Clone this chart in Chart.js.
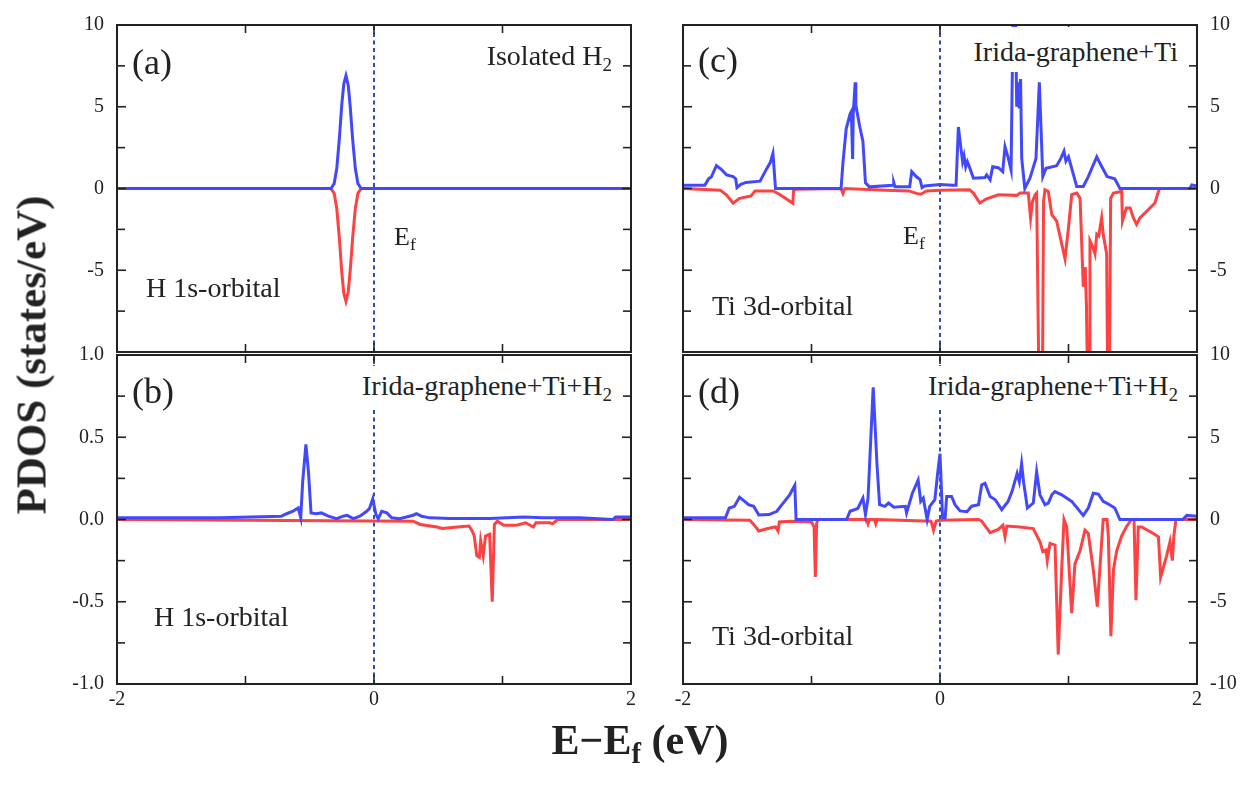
<!DOCTYPE html>
<html><head><meta charset="utf-8">
<script src="https://cdn.jsdelivr.net/npm/chart.js@4.4.0/dist/chart.umd.min.js"></script>
<style>
html,body{margin:0;padding:0;background:#fff;overflow:hidden;width:1259px;height:787px;position:relative;}
canvas{position:absolute;}
.t{position:absolute;font-family:"Liberation Serif","Times New Roman",serif;color:#222;white-space:nowrap;line-height:1;}
.t sub{font-size:0.68em;vertical-align:-0.3em;line-height:0;}
.bx{background:#fff;padding-left:3px;padding-right:3px;}
.b{font-weight:bold;}
</style></head><body>
<canvas id="ca" width="660" height="380" style="left:0;top:0"></canvas>
<canvas id="cb" width="660" height="420" style="left:0;top:330px"></canvas>
<canvas id="cc" width="609" height="380" style="left:650px;top:0"></canvas>
<canvas id="cd" width="609" height="420" style="left:650px;top:330px"></canvas>

<div class="t" style="left:132px;top:44px;font-size:36px">(a)</div>
<div class="t" style="right:647px;top:42px;font-size:28px">Isolated H<sub>2</sub></div>
<div class="t" style="left:394px;top:224px;font-size:26px">E<sub>f</sub></div>
<div class="t" style="left:146px;top:274px;font-size:28px">H 1s-orbital</div>

<div class="t" style="left:132px;top:373px;font-size:36px">(b)</div>
<div class="t bx" style="right:644px;top:366px;padding-top:6px;padding-bottom:10px;font-size:28px">Irida-graphene+Ti+H<sub>2</sub></div>
<div class="t" style="left:154px;top:603px;font-size:28px">H 1s-orbital</div>

<div class="t" style="left:698px;top:42px;font-size:36px">(c)</div>
<div class="t bx" style="right:78px;top:27px;padding-top:11px;padding-bottom:6px;font-size:28px">Irida-graphene+Ti</div>
<div class="t" style="left:903px;top:223px;font-size:26px">E<sub>f</sub></div>
<div class="t" style="left:712px;top:292px;font-size:28px">Ti 3d-orbital</div>

<div class="t" style="left:698px;top:373px;font-size:36px">(d)</div>
<div class="t bx" style="right:78px;top:366px;padding-top:6px;padding-bottom:10px;font-size:28px">Irida-graphene+Ti+H<sub>2</sub></div>
<div class="t" style="left:712px;top:622px;font-size:28px">Ti 3d-orbital</div>

<div class="t b" style="left:31px;top:355px;font-size:43px;transform:translate(-50%,-50%) rotate(-90deg)">PDOS (states/eV)</div>
<div class="t b" style="left:640px;top:740px;font-size:42px;transform:translate(-50%,-50%)">E&#8722;E<sub>f</sub> (eV)</div>

<script>
// ---------- axis ticks ----------
const xTickVals = [-2, 0, 2];
const xTickLabels = ['-2', '0', '2'];
const xMinorVals = [-1, 1];
const yTicksBig = [10, 5, 0, -5, -10];
const yLabelsTop = ['10', '5', '0', '-5', ''];
const yLabelsD = ['10', '5', '0', '-5', '-10'];
const yMinorBig = [7.5, 2.5, -2.5, -7.5];
const yTicksB = [1, 0.5, 0, -0.5, -1];
const yLabelsB = ['1.0', '0.5', '0.0', '-0.5', '-1.0'];
const yMinorB = [0.75, 0.25, -0.25, -0.75];

// ---------- (a) isolated H2, H 1s ----------
const aE   = [-2, -0.335, -0.31, -0.29, -0.27, -0.25, -0.235, -0.218, -0.20, -0.185, -0.165, -0.145, -0.125, -0.10, 2];
const aUpV = [0, 0, 0.3, 1.2, 3.0, 5.2, 6.4, 6.9, 6.3, 5.0, 2.9, 1.2, 0.3, 0, 0];
const aDnV = [0, 0, -0.3, -1.2, -3.0, -5.2, -6.4, -6.9, -6.3, -5.0, -2.9, -1.2, -0.3, 0, 0];

// ---------- (b) Irida-graphene+Ti+H2, H 1s ----------
const bUpE = [-2, -1.2, -0.72, -0.68, -0.63, -0.59, -0.57, -0.555, -0.53, -0.51,
              -0.49, -0.45, -0.41, -0.355, -0.29, -0.24, -0.21, -0.16, -0.11, -0.057,
              -0.036, -0.01, 0.015, 0.033, 0.06, 0.10, 0.137, 0.2, 0.305, 0.33,
              0.37, 0.435, 0.59, 0.9, 1.17, 1.31, 1.6, 1.86, 1.88, 2];
const bUpV = [0.01, 0.01, 0.02, 0.035, 0.05, 0.07, 0.01, 0.23, 0.457, 0.29,
              0.04, 0.035, 0.04, 0.02, 0.005, 0.02, 0.025, 0.005, 0.02, 0.05,
              0.066, 0.125, 0.03, 0.005, 0.05, 0.04, 0.01, 0.005, 0.026, 0.035,
              0.02, 0.01, 0.006, 0.006, 0.015, 0.01, 0.01, 0.0, 0.015, 0.015];
const bDnE = [-2, 0.305, 0.36, 0.49, 0.53, 0.65, 0.74, 0.764, 0.78, 0.80,
              0.82, 0.83, 0.85, 0.868, 0.90, 0.92, 0.937, 0.96, 1.01, 1.11,
              1.18, 1.24, 1.26, 1.37, 1.39, 1.43, 2];
const bDnV = [0, -0.01, -0.03, -0.046, -0.054, -0.046, -0.04, -0.07, -0.1, -0.22,
              -0.23, -0.13, -0.22, -0.10, -0.09, -0.5, -0.03, -0.01, -0.035, -0.035,
              -0.02, -0.046, -0.02, -0.02, -0.026, 0, 0];

// ---------- (c) Irida-graphene+Ti, Ti 3d ----------
const cUpE = [-2, -1.83, -1.80, -1.78, -1.74, -1.70, -1.66, -1.61, -1.59, -1.58,
              -1.55, -1.51, -1.40, -1.35, -1.32, -1.30, -1.28, -0.77, -0.755, -0.73,
              -0.70, -0.69, -0.68, -0.675, -0.66, -0.655, -0.625, -0.60, -0.58, -0.55,
              -0.365, -0.36, -0.35, -0.236, -0.22, -0.185, -0.155, -0.14, -0.12, 0.0,
              0.10, 0.125, 0.143, 0.16, 0.176, 0.187, 0.20, 0.213, 0.233, 0.26,
              0.35, 0.363, 0.39, 0.41, 0.454, 0.488, 0.506, 0.532, 0.553, 0.571,
              0.585, 0.597, 0.607, 0.617, 0.627, 0.636, 0.66, 0.70, 0.747, 0.773,
              0.80, 0.825, 0.908, 0.94, 0.965, 0.98, 1.0, 1.025, 1.064, 1.115,
              1.154, 1.22, 1.245, 1.30, 1.36, 1.40, 1.945, 1.96, 2.0];
const cUpV = [0.2, 0.2, 0.6, 0.7, 1.4, 1.15, 0.83, 0.73, 0.6, 0.05,
              0.25, 0.37, 0.45, 1.2, 1.6, 2.15, 0, 0, 1.6, 3.65,
              4.55, 4.7, 1.8, 4.6, 6.5, 5.1, 3.8, 2.9, 0.35, 0.1,
              0.2, 0.37, 0.1, 0.1, 1.03, 0.73, 0.55, 0.05, 0.15, 0.25,
              0.2, 0.2, 3.76, 2.65, 1.64, 2.0, 1.33, 1.64, 1.23, 0.63,
              0.67, 0.83, 0.53, 1.33, 1.27, 1.03, 2.55, 1.84, 1.13, 12,
              12, 5.0, 6.5, 4.9, 6.7, 1.84, 0, 0.63, 1.84, 6.5,
              0.73, 1.23, 1.39, 1.84, 2.28, 1.68, 1.94, 1.23, 0.12, 0.12,
              0.73, 1.94, 1.54, 0.73, 0.59, 0, 0, 0.22, 0.15];
const cDnE = [-2, -1.71, -1.66, -1.61, -1.56, -1.47, -1.44, -1.30, -1.25, -1.145,
              -1.14, -1.13, -0.77, -0.755, -0.74, -0.42, -0.24, -0.185, -0.15, -0.105,
              0.0, 0.23, 0.26, 0.31, 0.363, 0.454, 0.597, 0.623, 0.687, 0.705,
              0.72, 0.74, 0.752, 0.770, 0.797, 0.806, 0.817, 0.843, 0.87, 0.908,
              0.973, 1.0, 1.025, 1.064, 1.09, 1.115, 1.13, 1.14, 1.148, 1.16,
              1.167, 1.19, 1.206, 1.22, 1.235, 1.258, 1.27, 1.297, 1.305, 1.318,
              1.328, 1.35, 1.414, 1.42, 1.45, 1.48, 1.505, 1.53, 1.556, 1.62,
              1.673, 1.70, 1.71, 2.0];
const cDnV = [0, -0.1, -0.4, -0.9, -0.6, -0.45, -0.15, -0.15, -0.35, -0.9,
              -0.15, -0.05, 0, -0.3, 0, -0.1, -0.15, -0.3, -0.35, -0.15,
              -0.1, -0.08, -0.28, -0.89, -0.63, -0.38, -0.42, -0.28, -0.28, -1.8,
              -0.79, -0.38, -0.28, -12, -12, -0.79, -0.08, -0.18, -1.6, -2.0,
              -4.3, -2.4, -0.38, -0.28, -0.59, -6.0, -4.8, -7.25, -12, -12,
              -3.2, -3.6, -4.0, -2.8, -2.9, -1.8, -2.8, -4.0, -12, -12,
              -0.59, -0.28, -0.18, -2.0, -1.2, -1.2, -1.8, -2.2, -1.8, -1.3,
              -0.89, -0.18, 0, 0];

// ---------- (d) Irida-graphene+Ti+H2, Ti 3d ----------
const dUpE = [-2, -1.67, -1.64, -1.60, -1.56, -1.52, -1.49, -1.45, -1.41, -1.33,
              -1.27, -1.23, -1.17, -1.13, -1.12, -0.727, -0.70, -0.64, -0.60, -0.58,
              -0.56, -0.52, -0.49, -0.47, -0.43, -0.40, -0.36, -0.27, -0.26, -0.215,
              -0.17, -0.15, -0.13, -0.10, -0.08, -0.04, -0.02, 0.0, 0.02, 0.04,
              0.052, 0.09, 0.117, 0.156, 0.21, 0.246, 0.30, 0.324, 0.35, 0.39,
              0.43, 0.48, 0.53, 0.56, 0.60, 0.617, 0.635, 0.65, 0.68, 0.726,
              0.752, 0.778, 0.817, 0.843, 0.87, 0.895, 0.947, 1.025, 1.115, 1.154,
              1.193, 1.232, 1.27, 1.32, 1.36, 1.40, 1.89, 1.92, 2.0];
const dUpV = [0.1, 0.1, 0.7, 0.8, 1.35, 1.1, 0.9, 0.8, 0.27, 0.3,
              0.5, 0.9, 1.5, 2.08, 0, 0, 0.5, 0.67, 1.3, 0.3,
              1.3, 8.04, 3.3, 0.9, 0.8, 1.0, 0.75, 0.8, 0.4, 1.6,
              2.4, 1.1, 1.3, 0, 0.8, 1.2, 2.7, 4.0, 0.1, 0.1,
              1.4, 1.4, 0.9, 0.52, 0.47, 0.81, 0.9, 2.1, 2.2, 1.4,
              1.2, 0.6, 1.1, 1.7, 2.8, 2.3, 3.4, 2.3, 0.7, 1.0,
              2.9, 1.5, 0.9, 1.0, 1.5, 1.7, 1.5, 1.1, 0.25, 0.7,
              1.6, 1.55, 1.1, 0.9, 0.7, 0, 0, 0.25, 0.2];
const dDnE = [-2, -1.48, -1.45, -1.41, -1.34, -1.28, -1.26, -1.25, -1.17, -1.0,
              -0.98, -0.97, -0.96, -0.95, -0.57, -0.56, -0.55, -0.51, -0.50, -0.49,
              -0.07, -0.06, -0.05, -0.03, 0.0, 0.30, 0.324, 0.39, 0.454, 0.49,
              0.506, 0.52, 0.62, 0.726, 0.778, 0.80, 0.825, 0.835, 0.856, 0.895,
              0.92, 0.947, 0.965, 0.986, 1.025, 1.05, 1.09, 1.128, 1.154, 1.193,
              1.224, 1.25, 1.27, 1.30, 1.31, 1.33, 1.35, 1.375, 1.414, 1.45,
              1.49, 1.51, 1.525, 1.543, 1.57, 1.66, 1.70, 1.717, 1.764, 1.79,
              1.808, 1.82, 1.836, 2.0];
const dDnV = [0, -0.05, -0.3, -0.7, -0.55, -0.45, -0.7, -0.15, -0.1, -0.15,
              -0.45, -3.5, -0.25, 0, 0, -0.25, 0, 0, -0.25, 0,
              -0.1, -0.35, -0.65, -0.1, -0.05, 0, -0.1, -0.8, -0.6, -0.35,
              -1.05, -0.4, -0.45, -0.55, -1.35, -1.95, -1.85, -2.5, -1.45, -1.55,
              -8.2, -3.05, 0, -0.45, -5.7, -2.7, -1.9, -0.65, -0.85, -3.05,
              -5.3, -2.3, 0, 0, -1.0, -7.1, -3.05, -1.9, -1.0, -0.45,
              0, 0, -4.9, -0.45, -0.45, -0.85, -1.05, -3.5, -2.2, -1.35,
              -2.5, -1.0, 0, 0];

// ---------- styling ----------
const BLUE = '#4349fb';
const RED = '#fc4242';
const DASH = '#2f4fa8';
const INK = '#222';
const TICKFONT = {family: '"Liberation Serif","Times New Roman",serif', size: 20};

const pts = (xs, ys) => xs.map((x, i) => ({x: x, y: ys[i]}));

const framePlugin = {
  id: 'frame',
  afterDatasetsDraw(chart, args, o) {
    const {ctx, chartArea: a, scales} = chart;
    const x = scales.x, y = scales.y;
    ctx.save();
    ctx.strokeStyle = INK;
    ctx.lineWidth = 2;
    ctx.strokeRect(a.left, a.top, a.right - a.left, a.bottom - a.top);
    ctx.lineWidth = 1.6;
    const seg = (x1, y1, x2, y2) => { ctx.beginPath(); ctx.moveTo(x1, y1); ctx.lineTo(x2, y2); ctx.stroke(); };
    const doX = (vals, L) => vals.forEach(v => { const p = x.getPixelForValue(v); seg(p, a.top, p, a.top + L); seg(p, a.bottom, p, a.bottom - L); });
    const doY = (vals, L) => vals.forEach(v => { const p = y.getPixelForValue(v); seg(a.left, p, a.left + L, p); seg(a.right, p, a.right - L, p); });
    doX(o.xMajor, 9); doX(o.xMinor, 8);
    doY(o.yMajor, 9); doY(o.yMinor, 8);
    ctx.restore();
  }
};

function panel(id, o) {
  return new Chart(document.getElementById(id), {
    type: 'line',
    data: {datasets: [
      {data: pts(o.upE, o.upV), borderColor: BLUE, borderWidth: 3, pointRadius: 0, tension: 0},
      {data: pts(o.dnE, o.dnV), borderColor: RED, borderWidth: 3, pointRadius: 0, tension: 0},
      {data: [{x: 0, y: o.yTicks[o.yTicks.length - 1]}, {x: 0, y: o.yTicks[0]}], borderColor: DASH,
       borderWidth: 2, borderDash: [4, 3.5], pointRadius: 0}
    ]},
    options: {
      responsive: false, animation: false, devicePixelRatio: 1,
      layout: {padding: o.pad},
      plugins: {legend: {display: false}, tooltip: {enabled: false},
        frame: {xMajor: xTickVals, xMinor: xMinorVals, yMajor: o.yTicks, yMinor: o.yMinor}},
      scales: {
        x: {type: 'linear', min: -2, max: 2, display: o.showX, position: 'bottom',
            grid: {display: false, drawTicks: false}, border: {display: false},
            afterBuildTicks: s => { s.ticks = xTickVals.map(v => ({value: v})); },
            ticks: {font: TICKFONT, color: INK, padding: 4, maxRotation: 0, autoSkip: false,
                    callback: v => xTickLabels[xTickVals.indexOf(v)]},
            afterFit: s => { s.height = o.showX ? 46 : 0; }},
        y: {type: 'linear', min: o.yTicks[o.yTicks.length - 1], max: o.yTicks[0], position: o.ypos,
            grid: {display: false, drawTicks: false}, border: {display: false},
            afterBuildTicks: s => { s.ticks = o.yTicks.map(v => ({value: v})); },
            ticks: {font: TICKFONT, color: INK, padding: o.ypad, autoSkip: false,
                    callback: v => o.yLabels[o.yTicks.indexOf(v)]},
            afterFit: s => { s.width = o.yW; }}
      }
    },
    plugins: [framePlugin]
  });
}

panel('ca', {upE: aE, upV: aUpV, dnE: aE, dnV: aDnV, yTicks: yTicksBig, yLabels: yLabelsTop, yMinor: yMinorBig,
  ypos: 'left', yW: 117, ypad: 13, showX: false, pad: {left: 0, top: 22, right: 29, bottom: 28}});
panel('cb', {upE: bUpE, upV: bUpV, dnE: bDnE, dnV: bDnV, yTicks: yTicksB, yLabels: yLabelsB, yMinor: yMinorB,
  ypos: 'left', yW: 117, ypad: 13, showX: true, pad: {left: 0, top: 22, right: 29, bottom: 20}});
panel('cc', {upE: cUpE, upV: cUpV, dnE: cDnE, dnV: cDnV, yTicks: yTicksBig, yLabels: yLabelsTop, yMinor: yMinorBig,
  ypos: 'right', yW: 62, ypad: 13, showX: false, pad: {left: 33, top: 22, right: 0, bottom: 28}});
panel('cd', {upE: dUpE, upV: dUpV, dnE: dDnE, dnV: dDnV, yTicks: yTicksBig, yLabels: yLabelsD, yMinor: yMinorBig,
  ypos: 'right', yW: 62, ypad: 13, showX: true, pad: {left: 33, top: 22, right: 0, bottom: 20}});
</script>
</body></html>
